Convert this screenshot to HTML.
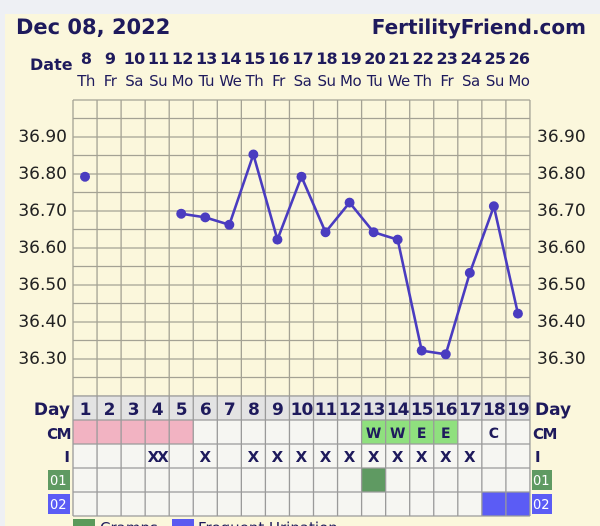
<!DOCTYPE html>
<html><head><meta charset="utf-8"><style>
html,body{margin:0;padding:0;background:#eef0f4;}
svg{display:block;}
text{font-family:"DejaVu Sans","Liberation Sans",sans-serif;}
</style></head><body>
<svg width="600" height="526" xmlns="http://www.w3.org/2000/svg">
<rect x="0" y="0" width="600" height="526" fill="#eef0f4"/>
<rect x="5" y="14" width="600" height="520" fill="#fbf7dc"/>
<text x="16" y="34" font-size="21" font-weight="bold" fill="#1e1a5c">Dec 08, 2022</text>
<text x="586" y="34" font-size="20" font-weight="bold" fill="#1e1a5c" text-anchor="end">FertilityFriend.com</text>
<text x="30" y="70" font-size="16" font-weight="bold" fill="#1e1a5c">Date</text>
<g id="dates" font-size="16" font-weight="bold" fill="#1e1a5c" text-anchor="middle" letter-spacing="-0.8"></g>
<g id="wd" font-size="15" fill="#1e1a5c" text-anchor="middle" letter-spacing="-0.5"></g>
<g id="grid" stroke="#a4a294" stroke-width="1.3" fill="none"></g>
<g id="ylab" font-size="17" fill="#222"></g>
<g id="tbl"></g>
<polyline id="line" fill="none" stroke="#4a3cc0" stroke-width="2.6" stroke-linejoin="round"/>
<g id="dots" fill="#4a3cc0"></g>
<rect x="73" y="519" width="22" height="12" fill="#5a9a5a"/>
<text x="100" y="533" font-size="15" fill="#1e1a5c">Cramps</text>
<rect x="172" y="519" width="22" height="12" fill="#5a5af0"/>
<text x="198" y="533" font-size="15" fill="#1e1a5c">Frequent Urination</text>
</svg>
<script>
var NS="http://www.w3.org/2000/svg";
function el(p,t,a,txt){var e=document.createElementNS(NS,t);for(var k in a)e.setAttribute(k,a[k]);if(txt!=null)e.textContent=txt;document.getElementById(p).appendChild(e);return e;}
var X0=73,W=24.05,N=19;
function cx(i){return X0+W*(i+0.5);}
var dates=[8,9,10,11,12,13,14,15,16,17,18,19,20,21,22,23,24,25,26];
var wds=["Th","Fr","Sa","Su","Mo","Tu","We","Th","Fr","Sa","Su","Mo","Tu","We","Th","Fr","Sa","Su","Mo"];
for(var i=0;i<N;i++){el("dates","text",{x:cx(i)+1,y:64},dates[i]);el("wd","text",{x:cx(i)+1,y:86},wds[i]);}
var R=X0+W*N;
for(var i=0;i<=N;i++){var x=X0+W*i;el("grid","line",{x1:x,y1:100,x2:x,y2:396});}
for(var j=0;j<=16;j++){var y=100+j*18.5;el("grid","line",{x1:X0,y1:y,x2:R,y2:y});}
function ty(t){return 136+(36.90-t)*370;}
["36.90","36.80","36.70","36.60","36.50","36.40","36.30"].forEach(function(s){var y=ty(+s)+6;el("ylab","text",{x:67,y:y,"text-anchor":"end"},s);el("ylab","text",{x:537,y:y},s);});
var rows=[396,420,444,468,492,516];
var cm={};for(var i=0;i<5;i++)cm[i]="#f2b3c2";
var cmt={12:"W",13:"W",14:"E",15:"E",17:"C"};
var I={3:"XX",5:"X",7:"X",8:"X",9:"X",10:"X",11:"X",12:"X",13:"X",14:"X",15:"X",16:"X"};
for(var i=0;i<N;i++){
 var x=X0+W*i;
 el("tbl","rect",{x:x,y:396,width:W,height:24,fill:"#e3e3e3"});
 var cf=cm[i]||((i>=12&&i<=15)?"#8fe07e":"#f6f6f2");
 el("tbl","rect",{x:x,y:420,width:W,height:24,fill:cf});
 el("tbl","rect",{x:x,y:444,width:W,height:24,fill:"#f6f6f2"});
 el("tbl","rect",{x:x,y:468,width:W,height:24,fill:i==12?"#5f9a62":"#f6f6f2"});
 el("tbl","rect",{x:x,y:492,width:W,height:24,fill:(i>=17)?"#5b5cf5":"#f6f6f2"});
 el("tbl","text",{x:x+W/2,y:415,"font-size":17,"font-weight":"bold",fill:"#1e1a5c","text-anchor":"middle","letter-spacing":-1},i+1);
 if(cmt[i])el("tbl","text",{x:x+W/2,y:438,"font-size":14,"font-weight":"bold",fill:"#1e1a5c","text-anchor":"middle"},cmt[i]);
 if(I[i])el("tbl","text",{x:x+W/2,y:462,"font-size":15,"font-weight":"bold",fill:"#1e1a5c","text-anchor":"middle","letter-spacing":I[i].length>1?-2:0},I[i]);
}
for(var i=0;i<=N;i++){var x=X0+W*i;el("tbl","line",{x1:x,y1:396,x2:x,y2:516,stroke:"#9a9a9a","stroke-width":1.3});}
rows.forEach(function(y){el("tbl","line",{x1:X0,y1:y,x2:R,y2:y,stroke:"#9a9a9a","stroke-width":1.3});});
el("tbl","text",{x:70,y:415,"font-size":17,"font-weight":"bold",fill:"#1e1a5c","text-anchor":"end"},"Day");
el("tbl","text",{x:70,y:439,"font-size":15,"font-weight":"bold",fill:"#1e1a5c","text-anchor":"end","letter-spacing":-1.5},"CM");
el("tbl","text",{x:70,y:462,"font-size":15,"font-weight":"bold",fill:"#1e1a5c","text-anchor":"end"},"I");
el("tbl","text",{x:535,y:415,"font-size":17,"font-weight":"bold",fill:"#1e1a5c"},"Day");
el("tbl","text",{x:533,y:439,"font-size":15,"font-weight":"bold",fill:"#1e1a5c","letter-spacing":-1.5},"CM");
el("tbl","text",{x:535,y:462,"font-size":15,"font-weight":"bold",fill:"#1e1a5c"},"I");
[[48,470,"#5f9a62","01"],[48,494,"#5b5cf5","02"]].forEach(function(b){el("tbl","rect",{x:b[0],y:b[1],width:22,height:20,fill:b[2]});el("tbl","text",{x:b[0]+2,y:b[1]+15,"font-size":13,fill:"#fff"},b[3]);
el("tbl","rect",{x:532,y:b[1],width:20,height:20,fill:b[2]});el("tbl","text",{x:533,y:b[1]+15,"font-size":13,fill:"#fff"},b[3]);});
var d={0:36.79,4:36.69,5:36.68,6:36.66,7:36.85,8:36.62,9:36.79,10:36.64,11:36.72,12:36.64,13:36.62,14:36.32,15:36.31,16:36.53,17:36.71,18:36.42};
var pts=[];for(var i=4;i<N;i++)pts.push(cx(i)+","+ty(d[i]));
document.getElementById("line").setAttribute("points",pts.join(" "));
for(var k in d)el("dots","circle",{cx:cx(+k),cy:ty(d[k]),r:5});
</script>
</body></html>
